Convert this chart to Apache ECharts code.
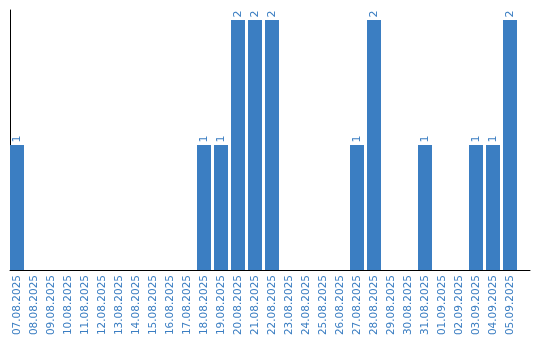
<!DOCTYPE html>
<html><head><meta charset="utf-8">
<script src="https://cdn.jsdelivr.net/npm/echarts@6/dist/echarts.min.js"></script>
<style>html,body{margin:0;padding:0;background:#fff}#c{width:540px;height:340px}</style>
</head><body><div id="c"></div>
<script>
const categories = ["07.08.2025","08.08.2025","09.08.2025","10.08.2025","11.08.2025","12.08.2025","13.08.2025","14.08.2025","15.08.2025","16.08.2025","17.08.2025","18.08.2025","19.08.2025","20.08.2025","21.08.2025","22.08.2025","23.08.2025","24.08.2025","25.08.2025","26.08.2025","27.08.2025","28.08.2025","29.08.2025","30.08.2025","31.08.2025","01.09.2025","02.09.2025","03.09.2025","04.09.2025","05.09.2025"];
const values = [1,0,0,0,0,0,0,0,0,0,0,1,1,2,2,2,0,0,0,0,1,2,0,0,1,0,0,1,1,2];
const BLUE = '#3b7ec2';
const chart = echarts.init(document.getElementById('c'));
chart.setOption({
  animation: false,
  grid: [
    {left: 8.5, width: 510, top: 20, bottom: 70},
    {left: 10, right: 10, top: 10, bottom: 70}
  ],
  xAxis: [
    {type: 'category', data: categories, gridIndex: 0,
     axisLine: {show: false}, axisTick: {show: false},
     axisLabel: {rotate: 90, interval: 0, color: BLUE, fontFamily: 'DejaVu Sans', fontSize: 10.5, margin: 5}},
    {type: 'value', gridIndex: 1, min: 0, max: 1, show: true,
     axisLine: {show: true, lineStyle: {color: '#000', width: 1}}, axisTick: {show: false},
     axisLabel: {show: false}, splitLine: {show: false}}
  ],
  yAxis: [
    {type: 'value', gridIndex: 0, min: 0, max: 2, show: false},
    {type: 'value', gridIndex: 1, min: 0, max: 1,
     axisLine: {show: true, lineStyle: {color: '#000', width: 1}}, axisTick: {show: false},
     axisLabel: {show: false}, splitLine: {show: false}}
  ],
  series: [{
    type: 'bar', xAxisIndex: 0, yAxisIndex: 0, data: values,
    barWidth: 14,
    itemStyle: {color: BLUE},
    label: {show: true, position: 'top', rotate: 90, align: 'left', verticalAlign: 'middle',
      distance: 2, offset: [0.5, 0], color: BLUE, opacity: 1,
      fontFamily: 'DejaVu Sans', fontSize: 11,
      formatter: p => p.value ? String(p.value) : ''}
  }]
});
</script></body></html>
